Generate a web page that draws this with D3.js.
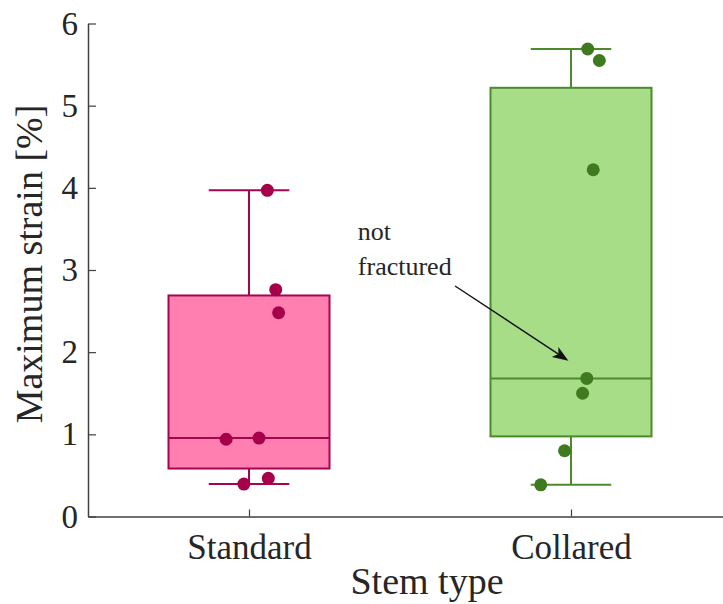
<!DOCTYPE html>
<html>
<head>
<meta charset="utf-8">
<script src="https://cdn.jsdelivr.net/npm/d3@7"></script>
<style>
  html, body { margin: 0; padding: 0; background: #fff; }
  svg { display: block; }
  text { font-family: "Liberation Serif", "Times New Roman", serif; fill: #262626; }
</style>
</head>
<body>
<svg id="chart" width="723" height="604"></svg>
<script>
// Stem types shown along the horizontal axis
const categories = ["Standard", "Collared"];

// Maximum strain [%] for each specimen, per stem type
const standardStrain = [3.97, 2.76, 2.48, 0.94, 0.955, 0.395, 0.465];
const collaredStrain = [5.69, 5.55, 4.22, 1.68, 1.50, 0.80, 0.385];

// Horizontal jitter of each specimen marker (in category units)
const standardJitter = [0.057, 0.083, 0.092, -0.071, 0.031, -0.016, 0.060];
const collaredJitter = [0.052, 0.088, 0.069, 0.049, 0.036, -0.020, -0.094];

const yTicks = [0, 1, 2, 3, 4, 5, 6];

// Annotation: label position and arrow (data coordinates)
const noteLines = ["not", "fractured"];
const noteAnchor = [1.338, 3.365];
const arrowTail = [1.64, 2.805];
const arrowHead = [1.992, 1.896];

const fills = ["#ff80b0", "#a8dd88"];
const edges = ["#a3064e", "#4d8a2c"];
const dots = ["#a6004a", "#3f7a1f"];

const groups = [
  { name: categories[0], values: standardStrain, jitter: standardJitter },
  { name: categories[1], values: collaredStrain, jitter: collaredJitter }
];

// Quantile with the (n*p + 0.5) interpolation rule
function quant(sorted, p) {
  const n = sorted.length;
  const pos = n * p + 0.5;
  if (pos <= 1) return sorted[0];
  if (pos >= n) return sorted[n - 1];
  const i = Math.floor(pos), f = pos - i;
  return sorted[i - 1] + f * (sorted[i] - sorted[i - 1]);
}
groups.forEach(g => {
  const s = g.values.slice().sort(d3.ascending);
  g.q1 = quant(s, 0.25);
  g.med = quant(s, 0.5);
  g.q3 = quant(s, 0.75);
  g.lo = s[0];
  g.hi = s[s.length - 1];
});

const svg = d3.select("#chart");
const x = d3.scaleLinear().domain([0.5, 2.5]).range([88, 732]);
const y = d3.scaleLinear().domain([0, 6]).range([516.5, 23.5]);
const boxW = 0.5, capW = 0.25;

// Boxes, whiskers and medians
const g = svg.selectAll("g.box").data(groups).join("g").attr("class", "box");
g.append("line")
  .attr("x1", (d, i) => x(i + 1)).attr("x2", (d, i) => x(i + 1))
  .attr("y1", d => y(d.hi)).attr("y2", d => y(d.q3))
  .attr("stroke", (d, i) => edges[i]).attr("stroke-width", 2);
g.append("line")
  .attr("x1", (d, i) => x(i + 1)).attr("x2", (d, i) => x(i + 1))
  .attr("y1", d => y(d.q1)).attr("y2", d => y(d.lo))
  .attr("stroke", (d, i) => edges[i]).attr("stroke-width", 2);
g.selectAll("line.cap").data((d, i) => [{ v: d.hi, i }, { v: d.lo, i }]).join("line")
  .attr("class", "cap")
  .attr("x1", d => x(d.i + 1 - capW / 2)).attr("x2", d => x(d.i + 1 + capW / 2))
  .attr("y1", d => y(d.v)).attr("y2", d => y(d.v))
  .attr("stroke", d => edges[d.i]).attr("stroke-width", 2);
g.append("rect")
  .attr("x", (d, i) => x(i + 1 - boxW / 2))
  .attr("width", x(1 + boxW / 2) - x(1 - boxW / 2))
  .attr("y", d => y(d.q3))
  .attr("height", d => y(d.q1) - y(d.q3))
  .attr("fill", (d, i) => fills[i])
  .attr("stroke", (d, i) => edges[i]).attr("stroke-width", 2);
g.append("line")
  .attr("x1", (d, i) => x(i + 1 - boxW / 2)).attr("x2", (d, i) => x(i + 1 + boxW / 2))
  .attr("y1", d => y(d.med)).attr("y2", d => y(d.med))
  .attr("stroke", (d, i) => edges[i]).attr("stroke-width", 2);

// Specimen markers
g.selectAll("circle").data((d, i) => d.values.map((v, k) => ({ v, j: d.jitter[k], i })))
  .join("circle")
  .attr("cx", d => x(d.i + 1 + d.j))
  .attr("cy", d => y(d.v))
  .attr("r", 6.5)
  .attr("fill", d => dots[d.i]);

// Axes
const axisColor = "#404040";
const yAxis = svg.append("g").attr("transform", `translate(${x(0.5)},0)`)
  .call(d3.axisLeft(y).tickValues(yTicks).tickSizeInner(-8).tickSizeOuter(0).tickPadding(10).tickFormat(d3.format("d")));
const xAxis = svg.append("g").attr("transform", `translate(0,${y(0)})`)
  .call(d3.axisBottom(x).tickValues([1, 2]).tickSizeInner(-7).tickSizeOuter(0).tickPadding(16)
    .tickFormat(d => categories[d - 1]));
[yAxis, xAxis].forEach(a => {
  a.select(".domain").attr("stroke", axisColor).attr("stroke-width", 1.5);
  a.selectAll(".tick line").attr("stroke", axisColor).attr("stroke-width", 1.2);
  a.selectAll(".tick text").attr("fill", "#262626")
    .style("font-family", '"Liberation Serif", "Times New Roman", serif');
});
yAxis.selectAll(".tick text").style("font-size", "33px");
xAxis.selectAll(".tick text").style("font-size", "35px").attr("dy", "0.75em");

// Axis titles
svg.append("text")
  .attr("x", 427).attr("y", 594)
  .attr("text-anchor", "middle").style("font-size", "38px")
  .text("Stem type");
svg.append("text")
  .attr("transform", `translate(42,${(y(0) + y(6)) / 2 - 6}) rotate(-90)`)
  .attr("text-anchor", "middle").style("font-size", "38px")
  .text("Maximum strain [%]");

// Annotation text and arrow
const note = svg.append("text").style("font-size", "26px")
  .attr("x", x(noteAnchor[0])).attr("y", y(noteAnchor[1]));
noteLines.forEach((t, k) => note.append("tspan")
  .attr("x", x(noteAnchor[0])).attr("dy", k === 0 ? 0 : 35).text(t));

const x0 = x(arrowTail[0]), y0 = y(arrowTail[1]);
const x1 = x(arrowHead[0]), y1 = y(arrowHead[1]);
const ang = Math.atan2(y1 - y0, x1 - x0);
const headLen = 16, headHalf = 6, back = 4;
svg.append("line")
  .attr("x1", x0).attr("y1", y0)
  .attr("x2", x1 - Math.cos(ang) * (headLen - back)).attr("y2", y1 - Math.sin(ang) * (headLen - back))
  .attr("stroke", "#111").attr("stroke-width", 1.4);
const pts = [
  [0, 0],
  [-headLen, -headHalf],
  [-headLen + back, 0],
  [-headLen, headHalf]
].map(([u, v]) => [x1 + u * Math.cos(ang) - v * Math.sin(ang), y1 + u * Math.sin(ang) + v * Math.cos(ang)]);
svg.append("path").attr("d", "M" + pts.join("L") + "Z").attr("fill", "#111");
</script>
</body>
</html>
